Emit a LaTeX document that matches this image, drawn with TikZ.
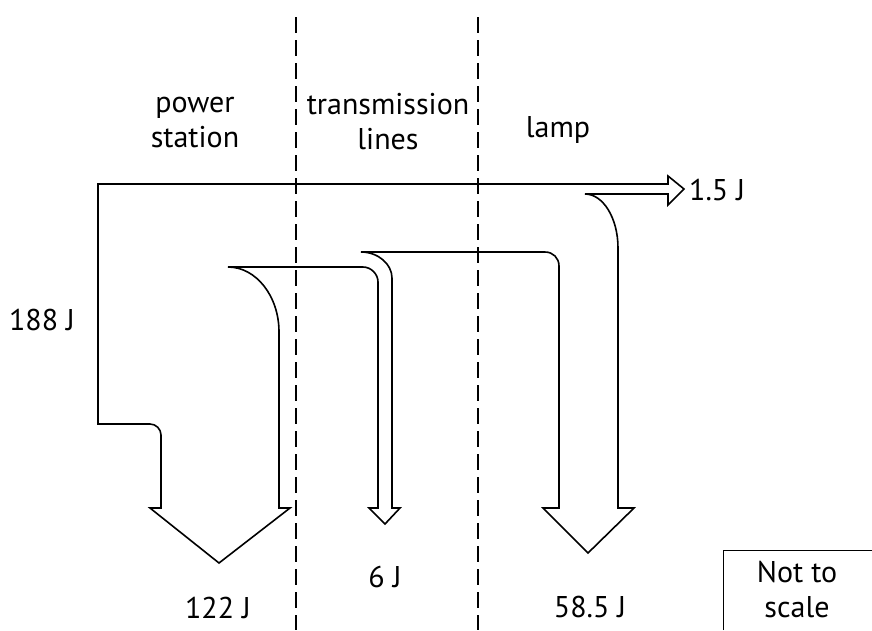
\documentclass[tikz,border=0pt]{standalone}
\usepackage{fontspec}
\setmainfont{PT Sans}
\begin{document}
\begin{tikzpicture}[x=1pt,y=-1pt,
  lbl/.style={font=\fontsize{30}{35}\selectfont,align=center,inner sep=0pt},
  flow/.style={line width=1.6pt,line join=miter},
  divider/.style={line width=1.8pt,dash pattern=on 16pt off 7pt}]
\useasboundingbox (0,0) rectangle (872,630);
% stage dividers
\draw[divider] (296,17) -- (296,630);
\draw[divider] (478,17) -- (478,630);
% energy flow outline
\draw[flow] (585,194) -- (668,194) -- (668,205) -- (684,189) -- (668,176) -- (668,184)
  -- (98,184) -- (98,424) -- (150,424) .. controls (156,424) and (161,429) .. (161,435)
  -- (161,508) -- (150,508) -- (219,563) -- (290,508) -- (279,508) -- (279,332)
  .. controls (279,296) and (256,267) .. (228,267)
  -- (363,267) .. controls (371,267) and (378,274) .. (378,282)
  -- (378,508) -- (369,508) -- (385,524) -- (400,508) -- (392,508) -- (392,278)
  .. controls (392,264) and (378,252) .. (361,252)
  -- (545,252) .. controls (553,252) and (559,258) .. (559,266)
  -- (559,508) -- (543,508) -- (588,553) -- (634,508) -- (618,508) -- (618,248)
  .. controls (618,218) and (603,194) .. cycle;
% stage names
\node[lbl] (station) at (195,122) {power\\station};
\node[lbl] (lines) at (388,122) {transmission\\lines};
\node[lbl] (lamp) at (558,130) {lamp};
% energy values
\node[lbl,anchor=west] (outJ) at (689,190) {1.5 J};
\node[lbl] (inJ) at (42,320) {188 J};
\node[lbl] (stationJ) at (218,608) {122 J};
\node[lbl] (linesJ) at (385,577) {6 J};
\node[lbl] (lampJ) at (590,607) {58.5 J};
% note box
\draw[line width=0.8pt] (723,630) -- (723,550) -- (872,550);
\node[lbl] (note) at (797,590) {Not to\\scale};
\end{tikzpicture}
\end{document}
